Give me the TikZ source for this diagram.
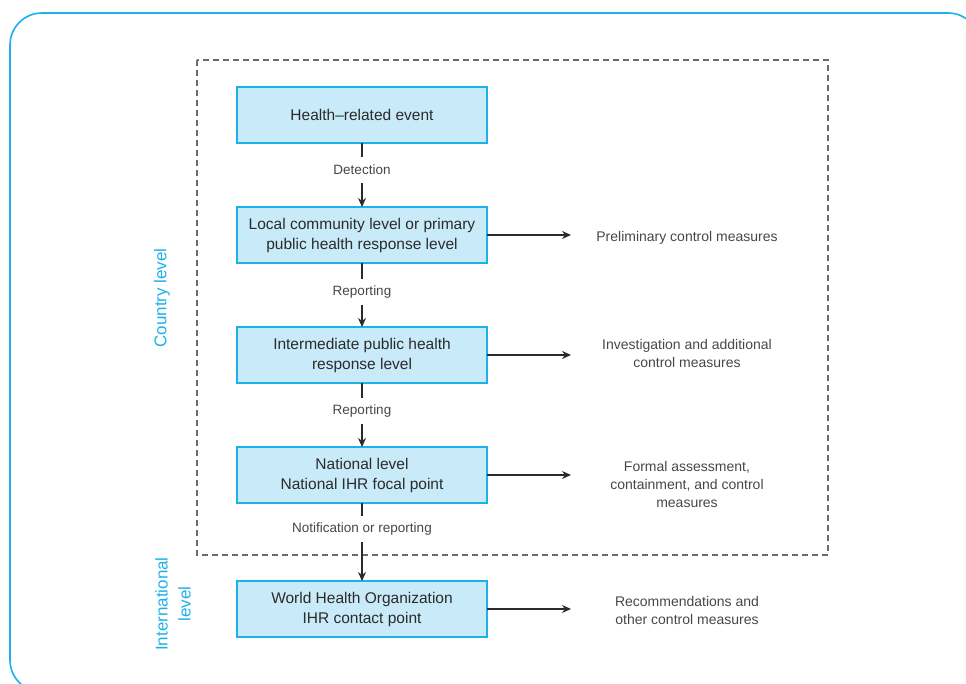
\documentclass[tikz,border=0pt]{standalone}
\usepackage{fontspec}
\setmainfont{Liberation Sans}
\usetikzlibrary{positioning,arrows.meta}

\definecolor{frame}{HTML}{1DB1EA}
\definecolor{boxfill}{HTML}{C9EAF9}
\definecolor{ink}{HTML}{2B2B2B}
\definecolor{notegray}{HTML}{474747}
\definecolor{dashgray}{HTML}{6A6A6A}

\tikzset{
  level/.style={draw=frame, fill=boxfill, line width=1.4pt, minimum width=250pt,
    minimum height=56pt, align=center, text=ink, outer sep=0pt, inner sep=0pt,
    font=\fontsize{15.5}{20}\selectfont},
  flowlbl/.style={fill=white, text=notegray, inner xsep=2pt, minimum height=26pt,
    font=\fontsize{13.5}{16}\selectfont},
  measure/.style={text=notegray, align=center, font=\fontsize{14}{18}\selectfont},
  side/.style={text=frame, rotate=90, align=center, font=\fontsize{17}{23}\selectfont},
  link/.style={-{Stealth[length=9pt,width=8pt]}, line width=1.3pt, draw=ink},
}

\begin{document}
\begin{tikzpicture}[x=1pt, y=-1pt, node distance=64pt]
\useasboundingbox (0,0) rectangle (966,684);

% outer frame, cut off at the page edge
\begin{scope}
\clip (0,0) rectangle (966,684);
\draw[frame, line width=1.6pt, rounded corners=32pt] (10,13) rectangle (980,692);
\end{scope}

% country level region
\draw[dashgray, line width=1.3pt, dash pattern=on 6pt off 4pt] (197,60) rectangle (828,555);

\node [side] (country) at (162,298) {Country level};
\node [side] (intl) at (173,604) {International\\level};

% the levels
\node [level] (event) at (362,115) {Health--related event};
\node [level] (local) [below=of event] {Local community level or primary\\public health response level};
\node [level] (inter) [below=of local] {Intermediate public health\\response level};
\node [level] (natl) [below=of inter] {National level\\National IHR focal point};
\node [level] (who) [below=78pt of natl] {World Health Organization\\IHR contact point};

% measures taken at each level
\node [measure] (prelim) at (687,238) {Preliminary control measures};
\node [measure] (invest) at (687,353) {Investigation and additional\\control measures};
\node [measure] (formal) at (687,484) {Formal assessment,\\containment, and control\\measures};
\node [measure] (recomm) at (687,610) {Recommendations and\\other control measures};

\coordinate (tipcol) at (571,0);

\draw [link] (event) -- node [flowlbl, pos=0.42] {Detection} (local);
\draw [link] (local) -- node [flowlbl, pos=0.45] {Reporting} (inter);
\draw [link] (inter) -- node [flowlbl, pos=0.44] {Reporting} (natl);
\draw [link] (natl) -- node [flowlbl, pos=0.33] {Notification or reporting} (who);

\draw [link] (local.east) -- (local.east -| tipcol);
\draw [link] (inter.east) -- (inter.east -| tipcol);
\draw [link] (natl.east) -- (natl.east -| tipcol);
\draw [link] (who.east) -- (who.east -| tipcol);
\end{tikzpicture}
\end{document}
